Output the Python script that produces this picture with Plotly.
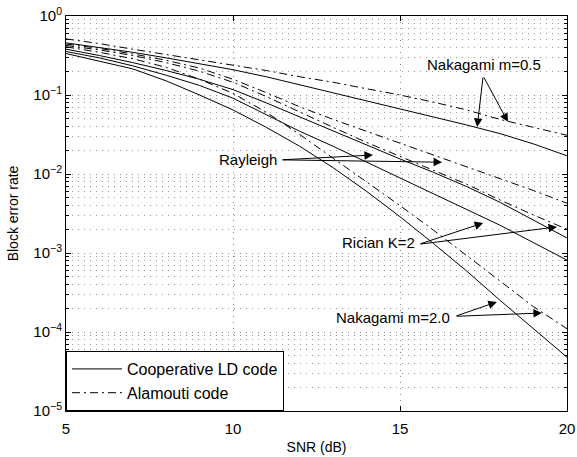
import math
import plotly.graph_objects as go

snr = [5, 6, 7, 8, 9, 10, 11, 12, 13, 14, 15, 16, 17, 18, 19, 20]

# Cooperative LD code (solid)
ld_nak05 = [0.457, 0.398, 0.347, 0.295, 0.251, 0.209, 0.170, 0.135, 0.107, 0.0851, 0.0676, 0.0537, 0.0417, 0.0324, 0.0240, 0.0170]
ld_rayleigh = [0.380, 0.316, 0.257, 0.204, 0.158, 0.117, 0.0794, 0.0525, 0.0355, 0.0234, 0.0155, 0.0105, 0.00692, 0.00437, 0.00263, 0.00155]
ld_rician = [0.355, 0.295, 0.234, 0.178, 0.132, 0.0912, 0.0562, 0.0347, 0.0224, 0.0141, 0.00891, 0.00562, 0.00355, 0.00224, 0.00135, 0.000813]
ld_nak20 = [0.335, 0.269, 0.214, 0.151, 0.100, 0.0646, 0.0389, 0.0224, 0.0120, 0.00603, 0.00288, 0.00132, 0.000589, 0.000251, 0.000110, 0.0000479]

# Alamouti code (dash-dot)
al_nak05 = [0.513, 0.447, 0.380, 0.324, 0.282, 0.240, 0.204, 0.170, 0.145, 0.120, 0.100, 0.0813, 0.0646, 0.0490, 0.0389, 0.0309]
al_rayleigh = [0.442, 0.389, 0.331, 0.275, 0.219, 0.158, 0.107, 0.0708, 0.0490, 0.0347, 0.0245, 0.0174, 0.0123, 0.00871, 0.00617, 0.00427]
al_rician = [0.424, 0.372, 0.316, 0.257, 0.200, 0.145, 0.0955, 0.0603, 0.0389, 0.0251, 0.0166, 0.0110, 0.00741, 0.00468, 0.00302, 0.00200]
al_nak20 = [0.407, 0.347, 0.288, 0.224, 0.158, 0.105, 0.0603, 0.0316, 0.0158, 0.00794, 0.00398, 0.00195, 0.000933, 0.000437, 0.000209, 0.000110]

x_ticks = [5, 10, 15, 20]
y_ticks = [1e-5, 1e-4, 1e-3, 1e-2, 1e-1, 1e0]
y_ticktext = ["10<sup>\u22125</sup>", "10<sup>\u22124</sup>", "10<sup>\u22123</sup>",
              "10<sup>\u22122</sup>", "10<sup>\u22121</sup>", "10<sup>0</sup>"]

# labels: (text, text x, text y, tail x, tail y, [tips (x, y)])
labels = [
    ("Nakagami m=0.5", 17.51, 0.24, 17.49, 0.174, [(17.31, 0.0394), (18.23, 0.0457)]),
    ("Rayleigh", 11.38, 0.0151, 11.44, 0.0151, [(14.19, 0.0174), (16.26, 0.0141)]),
    ("Rician K=2", 15.51, 0.00135, 15.57, 0.00129, [(17.49, 0.0024), (19.70, 0.00214)]),
    ("Nakagami m=2.0", 16.56, 0.000151, 16.65, 0.000158, [(17.90, 0.00024), (19.25, 0.000174)]),
]

FONT = "Liberation Sans, Arial, Helvetica, sans-serif"
DASHDOT = "8px,4px,2px,4px"
GRID = "1px,5px"

fig = go.Figure()
solid = [ld_nak05, ld_rayleigh, ld_rician, ld_nak20]
dashed = [al_nak05, al_rayleigh, al_rician, al_nak20]
for i, ys in enumerate(solid):
    fig.add_trace(go.Scatter(x=snr, y=ys, mode="lines", line=dict(color="black", width=1),
                             name="Cooperative LD code", showlegend=(i == 0), legendrank=1))
for i, ys in enumerate(dashed):
    fig.add_trace(go.Scatter(x=snr, y=ys, mode="lines", line=dict(color="black", width=1, dash=DASHDOT),
                             name="Alamouti code", showlegend=(i == 0), legendrank=2))

anns = []
for text, tx, ty, ax_, ay_, tips in labels:
    xanchor = "center" if text == "Nakagami m=0.5" else "right"
    anns.append(dict(x=tx, y=math.log10(ty), xref="x", yref="y", text=text, showarrow=False,
                     xanchor=xanchor, yanchor="middle", font=dict(family=FONT, size=15, color="black")))
    for (px, py) in tips:
        anns.append(dict(x=px, y=math.log10(py), xref="x", yref="y", ax=ax_, ay=math.log10(ay_),
                         axref="x", ayref="y", text="", showarrow=True, arrowhead=2, arrowsize=1.7,
                         arrowwidth=1, arrowcolor="black", standoff=0, startstandoff=0))

minor_vals = [k * 10.0 ** e for e in range(-5, 0) for k in range(2, 10)]

fig.update_layout(
    width=577, height=457,
    margin=dict(l=66, r=10, t=16, b=46, autoexpand=False),
    paper_bgcolor="white", plot_bgcolor="white",
    font=dict(family=FONT, size=15, color="black"),
    annotations=anns,
    legend=dict(x=0, y=0, xanchor="left", yanchor="bottom", bgcolor="white",
                bordercolor="black", borderwidth=1, font=dict(size=16, family=FONT),
                itemwidth=50, tracegroupgap=0),
    showlegend=True,
)
fig.update_xaxes(range=[5, 20], tickvals=x_ticks, ticks="inside", ticklen=5, tickcolor="black",
                 showline=True, linecolor="black", linewidth=1, mirror="allticks", automargin=False,
                 showgrid=True, gridcolor="#888", griddash=GRID, gridwidth=1, zeroline=False,
                 ticklabelstandoff=4,
                 title=dict(text="SNR (dB)", font=dict(size=14, family=FONT), standoff=6),
                 tickfont=dict(size=15, family=FONT))
fig.update_yaxes(type="log", range=[-5, 0], tickvals=y_ticks, ticktext=y_ticktext,
                 ticks="inside", ticklen=5, tickcolor="black", automargin=False,
                 showline=True, linecolor="black", linewidth=1, mirror="allticks",
                 showgrid=True, gridcolor="#888", griddash=GRID, gridwidth=1, zeroline=False,
                 minor=dict(tickmode="array", tickvals=minor_vals, ticks="inside", ticklen=3,
                            tickcolor="black", showgrid=True, gridcolor="#999", griddash=GRID, gridwidth=1),
                 title=dict(text="Block error rate", font=dict(size=14, family=FONT), standoff=11),
                 tickfont=dict(size=15, family=FONT))

fig.write_html("out.html", config={"displayModeBar": False},
               post_script="document.body.style.margin='0';document.body.style.padding='0';document.body.style.overflow='hidden';")
